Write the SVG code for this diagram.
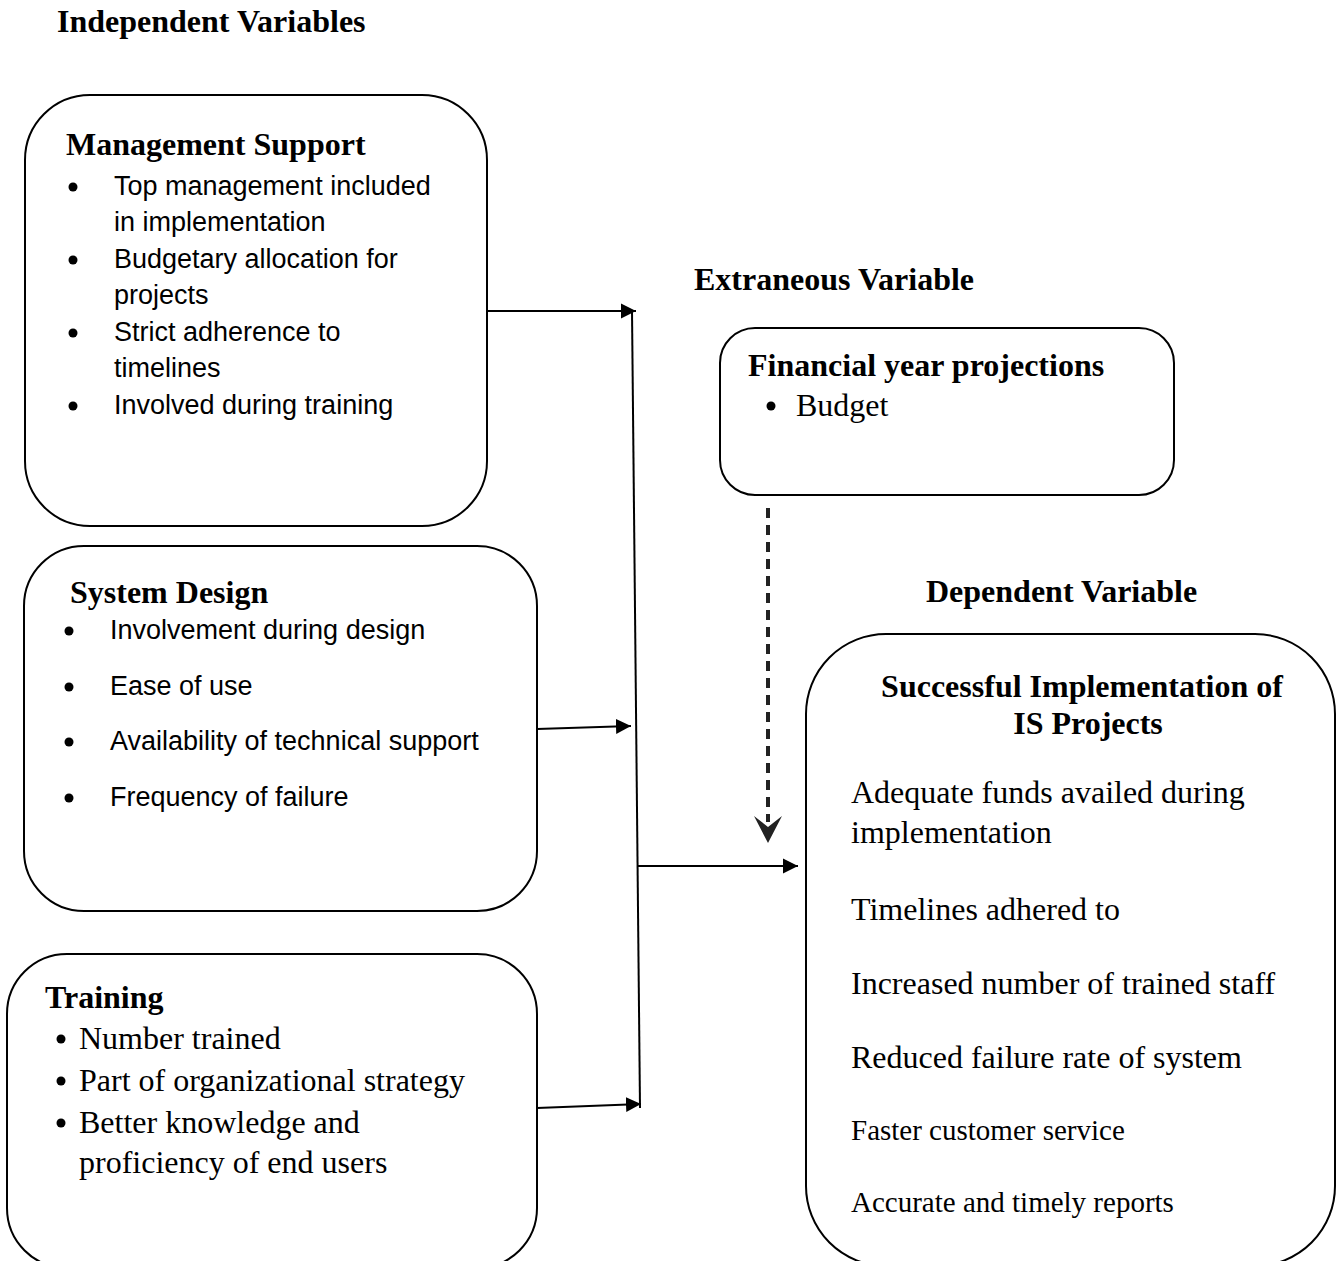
<svg xmlns="http://www.w3.org/2000/svg" width="1342" height="1261" viewBox="0 0 1342 1261">
<defs>
<style>
.box{fill:#fff;stroke:#000;stroke-width:2}
.hd{font-family:"Liberation Serif","Times New Roman",serif;font-weight:bold;font-size:32px;fill:#000}
.tm{font-family:"Liberation Serif","Times New Roman",serif;font-size:32px;fill:#000}
.tms{font-family:"Liberation Serif","Times New Roman",serif;font-size:29px;fill:#000}
.cb{font-family:"Liberation Sans",Arial,sans-serif;font-size:27px;fill:#000}
.ln{fill:none;stroke:#000;stroke-width:2}
.dash{fill:none;stroke:#222;stroke-width:4;stroke-dasharray:10 7}
</style>
<marker id="ah" viewBox="0 0 10 10" refX="10" refY="5" markerWidth="7.5" markerHeight="8" markerUnits="strokeWidth" orient="auto">
<path d="M0,0 L10,5 L0,10 Z" fill="#000"/>
</marker>
</defs>
<rect width="1342" height="1261" fill="#fff"/>

<text class="hd" x="57" y="32">Independent Variables</text>
<text class="hd" x="694" y="290">Extraneous Variable</text>
<text class="hd" x="926" y="602">Dependent Variable</text>

<g id="management-support">
<rect class="box" x="25" y="95" width="462" height="431" rx="65" ry="65"/>
<text class="hd" x="66" y="155">Management Support</text>
<circle cx="73" cy="187" r="4.5"/>
<text class="cb" x="114" y="195">Top management included</text>
<text class="cb" x="114" y="231">in implementation</text>
<circle cx="73" cy="260" r="4.5"/>
<text class="cb" x="114" y="268">Budgetary allocation for</text>
<text class="cb" x="114" y="304">projects</text>
<circle cx="73" cy="333" r="4.5"/>
<text class="cb" x="114" y="341">Strict adherence to</text>
<text class="cb" x="114" y="377">timelines</text>
<circle cx="73" cy="406" r="4.5"/>
<text class="cb" x="114" y="414">Involved during training</text>
</g>

<g id="system-design">
<rect class="box" x="24" y="546" width="513" height="365" rx="60" ry="60"/>
<text class="hd" x="70" y="603">System Design</text>
<circle cx="69" cy="631" r="4.5"/>
<text class="cb" x="110" y="639">Involvement during design</text>
<circle cx="69" cy="687" r="4.5"/>
<text class="cb" x="110" y="695">Ease of use</text>
<circle cx="69" cy="742" r="4.5"/>
<text class="cb" x="110" y="750">Availability of technical support</text>
<circle cx="69" cy="798" r="4.5"/>
<text class="cb" x="110" y="806">Frequency of failure</text>
</g>

<g id="training">
<rect class="box" x="7" y="954" width="530" height="314" rx="60" ry="60"/>
<text class="hd" x="45" y="1008">Training</text>
<circle cx="61" cy="1039" r="4.5"/>
<text class="tm" x="79" y="1049">Number trained</text>
<circle cx="61" cy="1081" r="4.5"/>
<text class="tm" x="79" y="1091">Part of organizational strategy</text>
<circle cx="61" cy="1123" r="4.5"/>
<text class="tm" x="79" y="1133">Better knowledge and</text>
<text class="tm" x="79" y="1173">proficiency of end users</text>
</g>

<g id="financial-year-projections">
<rect class="box" x="720" y="328" width="454" height="167" rx="35" ry="35"/>
<text class="hd" x="748" y="376">Financial year projections</text>
<circle cx="771" cy="406" r="4.5"/>
<text class="tm" x="796" y="416">Budget</text>
</g>

<g id="successful-implementation">
<rect class="box" x="806" y="634" width="529" height="632" rx="80" ry="80"/>
<text class="hd" x="1082" y="697" text-anchor="middle">Successful Implementation of</text>
<text class="hd" x="1088" y="734" text-anchor="middle">IS Projects</text>
<text class="tm" x="851" y="803">Adequate funds availed during</text>
<text class="tm" x="851" y="843">implementation</text>
<text class="tm" x="851" y="920">Timelines adhered to</text>
<text class="tm" x="851" y="994">Increased number of trained staff</text>
<text class="tm" x="851" y="1068">Reduced failure rate of system</text>
<text class="tms" x="851" y="1140">Faster customer service</text>
<text class="tms" x="851" y="1212">Accurate and timely reports</text>
</g>

<g id="connectors">
<path class="ln" d="M487,311 H636" marker-end="url(#ah)"/>
<path class="ln" d="M632,311 L640,1108"/>
<path class="ln" d="M537,729 L631,726" marker-end="url(#ah)"/>
<path class="ln" d="M537,1108 L641,1104" marker-end="url(#ah)"/>
<path class="ln" d="M637,866 L798,866" marker-end="url(#ah)"/>
<path class="dash" d="M768,508 V822"/>
<path d="M754,816 L768,827 L782,816 L768,843 Z" fill="#222"/>
</g>
</svg>
